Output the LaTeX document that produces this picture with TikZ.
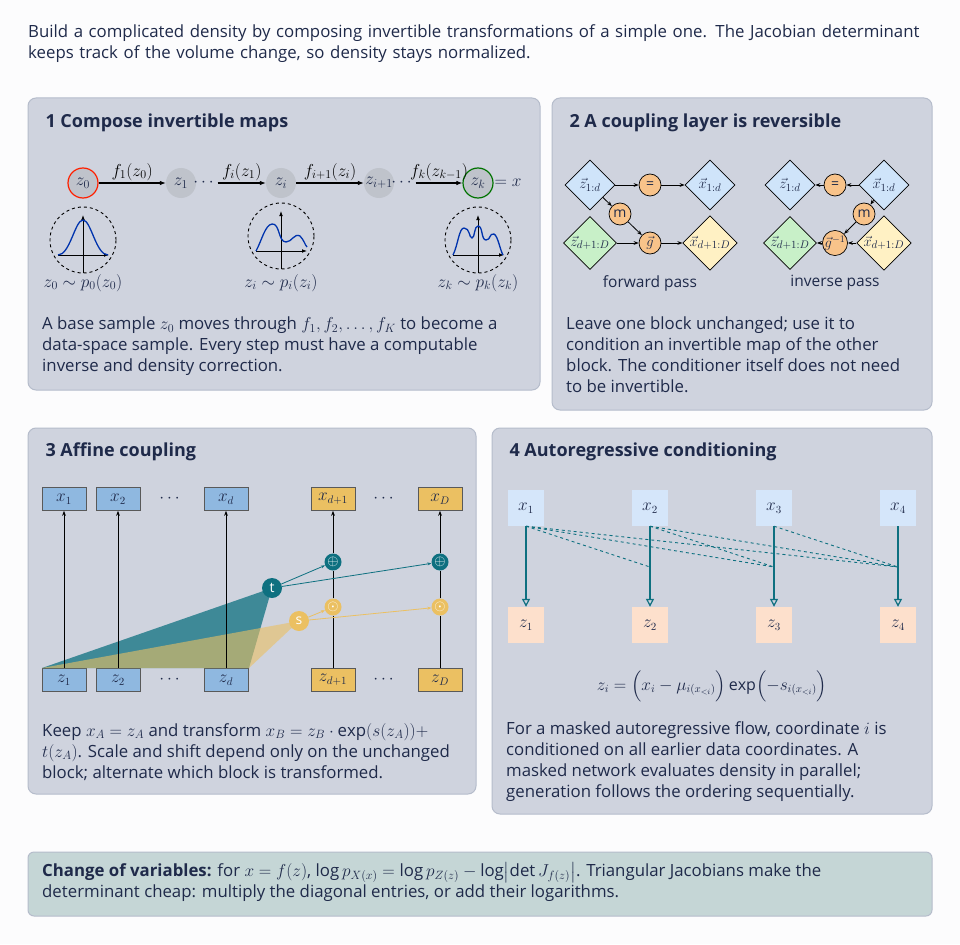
\documentclass[tikz,border=0pt]{standalone}
\usepackage{amsmath}
\usepackage{fontspec}
\setmainfont{Open Sans}
\usetikzlibrary{shapes.geometric,arrows.meta}
\definecolor{ink}{HTML}{1F2A4A}
\definecolor{panel}{HTML}{CFD3DE}
\definecolor{pborder}{HTML}{B5BCCB}
\definecolor{gnode}{HTML}{BFC3CB}
\definecolor{teal}{HTML}{0E7080}
\definecolor{bblue}{HTML}{8FB8E0}
\definecolor{borange}{HTML}{EBC062}
\definecolor{lblue}{HTML}{D5E6FA}
\definecolor{salmon}{HTML}{FDE0CC}
\definecolor{dgreen}{HTML}{C8F0C8}
\definecolor{dyellow}{HTML}{FFF1C4}
\definecolor{dblue}{HTML}{CFE4FA}
\definecolor{corange}{HTML}{F8C38A}
\definecolor{botpanel}{HTML}{C5D6D6}
\begin{document}
\begin{tikzpicture}[x=1pt,y=-1pt,font=\fontsize{16.8}{21}\selectfont,text=ink,
 panel/.style={fill=panel,draw=pborder,line width=1pt,rounded corners=8pt},
 ptitle/.style={anchor=base west,font=\fontsize{18}{22}\selectfont\bfseries},
 body/.style={anchor=north west,align=left,inner sep=0pt},
 m1/.style={font=\fontsize{17}{17}\selectfont},
 zc/.style={circle,fill=gnode,minimum size=30pt,inner sep=0pt,m1},
 dens/.style={circle,draw=black,dashed,line width=0.9pt,minimum size=66pt},
 arr/.style={-{Latex[length=6pt]},line width=1pt,black},
 dia/.style={diamond,draw=black,line width=0.7pt,minimum size=50pt,inner sep=0pt,font=\fontsize{15}{15}\selectfont},
 oc/.style={circle,draw=black,line width=0.7pt,fill=corange,minimum size=22pt,inner sep=0pt,font=\fontsize{14}{14}\selectfont},
 sa/.style={-{Stealth[length=5pt]},line width=0.8pt,black},
 bx/.style={draw=gray!70!black,line width=0.6pt,minimum width=44pt,minimum height=23pt,inner sep=0pt,font=\fontsize{16}{16}\selectfont},
 up/.style={-{Stealth[length=5pt]},line width=1pt,black},
 ab/.style={minimum size=36pt,inner sep=0pt,font=\fontsize{16}{16}\selectfont},
 ta/.style={-{Triangle[open,length=8pt,width=8pt]},line width=1.2pt,teal},
 td/.style={dashed,teal,line width=0.9pt},
]
\useasboundingbox[fill=white!94!panel] (0,0) rectangle (960,944);
\node[body,text width=925pt] (intro) at (28,24) {Build a complicated density by composing invertible transformations of a simple one. The Jacobian determinant\\keeps track of the volume change, so density stays normalized.};

% panels
\draw[panel] (28,98) rectangle (540,390);
\draw[panel] (552,98) rectangle (932,410);
\draw[panel] (28,428) rectangle (476,794);
\draw[panel] (492,428) rectangle (932,814);
\draw[fill=botpanel,draw=pborder,line width=1pt,rounded corners=6pt] (28,852) rectangle (932,916);

% ---------- panel 1
\node[ptitle] (t1) at (42,128) {1 Compose invertible maps};
\node[zc,draw=red!75!orange,line width=1.2pt] (z0) at (83,183) {$z_0$};
\node[zc] (z1) at (181,183) {$z_1$};
\node[zc] (zi) at (281,183) {$z_i$};
\node[zc] (zi1) at (379,183) {$z_{i+1}$};
\node[zc,draw=green!45!black,line width=1.2pt] (zk) at (478,183) {$z_k$};
\node[m1,inner sep=1pt] (d1) at (205,183) {$\cdots$};
\node[m1,inner sep=1pt] (d2) at (403,183) {$\cdots$};
\node[m1] (eqx) at (508,183) {$=x$};
\draw[arr] (z0) -- node[above,inner sep=2pt,m1]{$f_1(z_0)$} (z1);
\draw[arr] (d1.east) -- node[above,inner sep=2pt,m1]{$f_i(z_1)$} (zi);
\draw[arr] (zi) -- node[above,inner sep=2pt,m1]{$f_{i+1}(z_i)$} (zi1);
\draw[arr] (d2.east) -- node[above,inner sep=2pt,m1]{$f_k(z_{k-1})$} (zk);
\node[dens] (c0) at (83,240) {};
\node[dens] (ci) at (281,236) {};
\node[dens] (ck) at (478,240) {};
\foreach \c in {c0,ci,ck}{
 \draw[-{Latex[length=5pt]},line width=0.9pt] ([xshift=-25pt,yshift=-15pt]\c.center) -- ([xshift=26pt,yshift=-15pt]\c.center);
 \draw[-{Latex[length=5pt]},line width=0.9pt] ([yshift=-33pt]\c.center) -- ([yshift=25pt]\c.center);}
\draw[blue!60!black!80!cyan,line width=1.3pt] (58,255) .. controls (70,255) and (75,220) .. (83,220) .. controls (91,220) and (96,255) .. (108,255);
\draw[blue!60!black!80!cyan,line width=1.3pt] (256,251) .. controls (262,240) and (265,225) .. (272,224) .. controls (280,223) and (278,242) .. (286,242) .. controls (292,242) and (294,233) .. (300,236) .. controls (304,240) and (305,245) .. (307,247);
\draw[blue!60!black!80!cyan,line width=1.3pt] (453,255) .. controls (458,245) and (459,228) .. (464,228) .. controls (470,228) and (469,238) .. (472,238) .. controls (475,238) and (474,226) .. (478,226) .. controls (483,226) and (481,240) .. (486,240) .. controls (491,240) and (489,233) .. (494,234) .. controls (498,236) and (500,250) .. (503,255);
\node[m1] (l0) at (83,283) {$z_0\sim p_0(z_0)$};
\node[m1] (li) at (281,283) {$z_i\sim p_i(z_i)$};
\node[m1] (lk) at (478,283) {$z_k\sim p_k(z_k)$};
\node[body] (b1) at (42,317) {A base sample $z_0$ moves through $f_1,f_2,\ldots,f_K$ to become a\\data-space sample. Every step must have a computable\\inverse and density correction.};

% ---------- panel 2
\node[ptitle] (t2) at (566,128) {2 A coupling layer is reversible};
\node[dia,fill=dblue] (fa) at (590,185) {$\vec z_{1:d}$};
\node[oc] (fe) at (650,185) {=};
\node[dia,fill=dblue] (fb) at (710,185) {$\vec x_{1:d}$};
\node[oc] (fm) at (620,214) {m};
\node[dia,fill=dgreen] (fc) at (590,243) {$\vec z_{d+1:D}$};
\node[oc] (fg) at (650,243) {$\vec g$};
\node[dia,fill=dyellow] (fd) at (710,243) {$\vec x_{d+1:D}$};
\draw[sa] (fa) -- (fe); \draw[sa] (fe) -- (fb);
\draw[sa] (fa) -- (fm); \draw[sa] (fm) -- (fg);
\draw[sa] (fc) -- (fg); \draw[sa] (fg) -- (fd);
\node[dia,fill=dblue] (ia) at (790,185) {$\vec z_{1:d}$};
\node[oc] (ie) at (835,185) {=};
\node[dia,fill=dblue] (ib) at (884,185) {$\vec x_{1:d}$};
\node[oc] (im) at (864,214) {m};
\node[dia,fill=dgreen] (ic) at (790,243) {$\vec z_{d+1:D}$};
\node[oc] (ig) at (835,243) {$\vec g^{-1}$};
\node[dia,fill=dyellow] (id) at (884,243) {$\vec x_{d+1:D}$};
\draw[sa] (ib) -- (ie); \draw[sa] (ie) -- (ia);
\draw[sa] (ib) -- (im); \draw[sa] (im) -- (ig);
\draw[sa] (id) -- (ig); \draw[sa] (ig) -- (ic);
\node[font=\fontsize{15.5}{18}\selectfont] (fp) at (650,283) {forward pass};
\node[font=\fontsize{15.5}{18}\selectfont] (ip) at (835,283) {inverse pass};
\node[body] (b2) at (566,317) {Leave one block unchanged; use it to\\condition an invertible map of the other\\block. The conditioner itself does not need\\to be invertible.};

% ---------- panel 3
\node[ptitle] (t3) at (42,456) {3 Affine coupling};
\foreach \n/\x/\l in {1/64/1,2/118/2,d/226/d}{
 \node[bx,fill=bblue] (x\n) at (\x,499) {$x_{\l}$};
 \node[bx,fill=bblue] (z\n) at (\x,680) {$z_{\l}$};}
\node[bx,fill=borange] (xe) at (333,499) {$x_{d+1}$};
\node[bx,fill=borange] (xD) at (440,499) {$x_D$};
\node[bx,fill=borange] (ze) at (333,680) {$z_{d+1}$};
\node[bx,fill=borange] (zD) at (440,680) {$z_D$};
\node (e1) at (171,499) {$\cdots$}; \node (e2) at (385,499) {$\cdots$};
\node (e3) at (171,680) {$\cdots$}; \node (e4) at (385,680) {$\cdots$};
\fill[teal!75!panel] (42,668) -- (272,588) -- (249,668) -- cycle;
\fill[borange,opacity=0.6] (42,668) -- (299,621) -- (249,668) -- cycle;
\foreach \n in {1,2,d}{\draw[up] (z\n) -- (x\n);}
\foreach \n in {e,D}{
 \node[circle,fill=teal,text=white,inner sep=0pt,minimum size=17pt,font=\fontsize{15}{15}\selectfont] (p\n) at (x\n |- 0,562) {$\oplus$};
 \node[circle,fill=borange,text=white,inner sep=0pt,minimum size=17pt,font=\fontsize{15}{15}\selectfont] (m\n) at (x\n |- 0,607) {$\odot$};
 \draw[line width=1pt] (z\n) -- (m\n); \draw[line width=1pt] (m\n) -- (p\n);
 \draw[up] (p\n) -- (x\n);}
\node[circle,fill=teal,text=white,inner sep=0pt,minimum size=20pt,font=\fontsize{14}{14}\selectfont] (tt) at (272,588) {t};
\node[circle,fill=borange,text=white,inner sep=0pt,minimum size=20pt,font=\fontsize{14}{14}\selectfont] (ss) at (299,621) {s};
\draw[-{Stealth[length=4pt]},teal,line width=0.8pt] (tt) -- (pe); \draw[-{Stealth[length=4pt]},teal,line width=0.8pt] (tt) -- (pD);
\draw[-{Stealth[length=4pt]},borange,line width=0.8pt] (ss) -- (me); \draw[-{Stealth[length=4pt]},borange,line width=0.8pt] (ss) -- (mD);
\node[body] (b3) at (42,723) {Keep $x_A=z_A$ and transform $x_B=z_B\cdot\exp(s(z_A))+$\\$t(z_A)$. Scale and shift depend only on the unchanged\\block; alternate which block is transformed.};

% ---------- panel 4
\node[ptitle] (t4) at (506,456) {4 Autoregressive conditioning};
\foreach \i/\x in {1/526,2/650,3/774,4/898}{
 \node[ab,fill=lblue] (ax\i) at (\x,508) {$x_\i$};
 \node[ab,fill=salmon] (az\i) at (\x,625) {$z_\i$};
 \draw[ta] (ax\i) -- (az\i);
 \coordinate (k\i) at (\x,567);}
\draw[td] (ax1.south) -- (k2); \draw[td] (ax1.south) -- (k3); \draw[td] (ax1.south) -- (k4);
\draw[td] (ax2.south) -- (k3); \draw[td] (ax2.south) -- (k4);
\draw[td] (ax3.south) -- (k4);
\node[font=\fontsize{16}{16}\selectfont] (form) at (712,686) {$z_i=\Bigl(x_i-\mu_{i(x_{<i})}\Bigr)\exp\Bigl(-s_{i(x_{<i})}\Bigr)$};
\node[body] (b4) at (506,721) {For a masked autoregressive flow, coordinate $i$ is\\conditioned on all earlier data coordinates. A\\masked network evaluates density in parallel;\\generation follows the ordering sequentially.};

% ---------- bottom
\node[body] (b5) at (42,862) {\textbf{Change of variables:} for $x=f(z)$, $\log p_{X(x)}=\log p_{Z(z)}-\log\bigl|\det J_{f(z)}\bigr|$. Triangular Jacobians make the\\determinant cheap: multiply the diagonal entries, or add their logarithms.};
\end{tikzpicture}
\end{document}
